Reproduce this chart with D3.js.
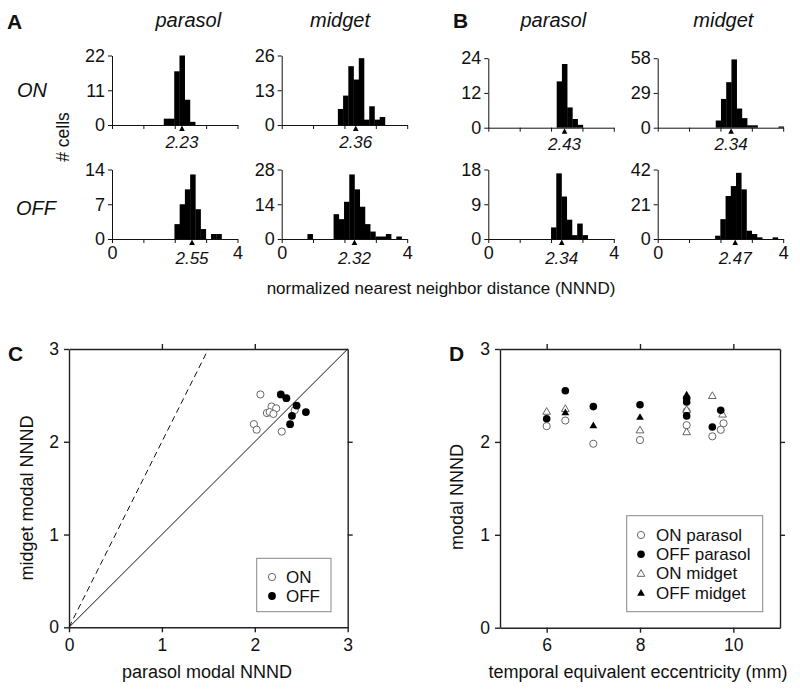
<!DOCTYPE html>
<html>
<head>
<meta charset="utf-8">
<script src="https://cdn.jsdelivr.net/npm/d3@7"></script>
<style>
html,body{margin:0;padding:0;background:#fff;}
svg{display:block;font-family:"Liberation Sans",Arial,Helvetica,sans-serif;}
</style>
</head>
<body>
<svg id="chart" width="800" height="691"></svg>
<script>
// ---------- DATA ----------
// Histograms (order: A ON parasol, A ON midget, A OFF parasol, A OFF midget,
//                    B ON parasol, B ON midget, B OFF parasol, B OFF midget)
const binWidth = 1 / 6;
const histStarts = [1.65, 1.79, 1.99, 0.82, 2.18, 1.85, 2.00, 1.83];
const histCounts = [
  [2, 2, 17, 22, 8, 1],
  [6, 11, 22, 17, 25, 2, 7, 2, 3],
  [3, 7, 10, 13, 6, 2, 0, 1, 1],
  [2, 0, 0, 0, 0, 10, 8, 15, 26, 20, 13, 6, 3, 1, 1, 2, 0, 1],
  [16, 22, 7, 3, 1],
  [6, 24, 38, 57, 16, 8, 2, 2, 0, 0, 0, 0, 1],
  [3, 17, 11, 5, 1, 4, 1],
  [2, 12, 26, 32, 40, 30, 5, 3, 1, 0, 0, 1]
];
const histModes = [2.23, 2.36, 2.55, 2.32, 2.43, 2.34, 2.34, 2.47];
const histYMax = [22, 26, 14, 28, 24, 58, 18, 42];
const histXTicks = [0, 1, 2, 3, 4];
const histXLabels = [0, 4];
const cellTypes = ["parasol", "midget"];
const rowLabels = ["ON", "OFF"];

// Panel C: parasol vs midget modal NNND
const cOnParasol = [2.06, 2.18, 2.23, 2.13, 2.16, 2.20, 1.99, 2.02, 2.29, 2.43];
const cOnMidget  = [2.51, 2.38, 2.36, 2.31, 2.32, 2.30, 2.19, 2.13, 2.11, 2.34];
const cOffParasol = [2.28, 2.34, 2.45, 2.55, 2.40, 2.38];
const cOffMidget  = [2.51, 2.47, 2.39, 2.32, 2.28, 2.19];
const cTicks = [0, 1, 2, 3];

// Panel D: eccentricity vs modal NNND
const dOnParasolX = [6.0, 6.4, 7.0, 8.0, 9.0, 9.0, 9.55, 9.73, 9.79];
const dOnParasolY = [2.17, 2.23, 1.98, 2.02, 2.18, 2.33, 2.06, 2.13, 2.20];
const dOffParasolX = [6.0, 6.4, 7.0, 8.0, 9.0, 9.0, 9.0, 9.55, 9.73];
const dOffParasolY = [2.25, 2.55, 2.38, 2.40, 2.47, 2.43, 2.28, 2.16, 2.34];
const dOnMidgetX = [6.0, 6.4, 8.0, 9.0, 9.0, 9.55, 9.77];
const dOnMidgetY = [2.33, 2.36, 2.13, 2.35, 2.11, 2.50, 2.30];
const dOffMidgetX = [6.4, 7.0, 8.0, 9.0, 9.0];
const dOffMidgetY = [2.32, 2.18, 2.27, 2.51, 2.45];
const dXTicks = [6, 8, 10];
const dYTicks = [0, 1, 2, 3];
const dLegend = ["ON parasol", "OFF parasol", "ON midget", "OFF midget"];

// ---------- DRAWING ----------
const svg = d3.select("#chart");
const FONT = 17.5;
const ink = "#111";
const fmt = d3.format("d");

// ----- Histograms -----
const histX0 = [112, 281.7, 112, 281.7, 488.3, 657.7, 488.3, 657.7];
const histZero = [125, 125, 239, 239, 127.7, 127.7, 239, 239];
const histW = 125.5, histH = 69.5;

histCounts.forEach((counts, i) => {
  const x = d3.scaleLinear().domain([0, 4]).range([histX0[i], histX0[i] + histW]);
  const y = d3.scaleLinear().domain([0, histYMax[i]]).range([histZero[i], histZero[i] - histH]);
  const g = svg.append("g");
  const bins = counts.map((c, k) => ({
    x0: histStarts[i] + k * binWidth,
    x1: histStarts[i] + (k + 1) * binWidth,
    c
  })).filter(d => d.c > 0);
  g.selectAll("rect").data(bins).join("rect")
    .attr("x", d => x(d.x0))
    .attr("width", d => x(d.x1) - x(d.x0) + 0.3)
    .attr("y", d => y(d.c))
    .attr("height", d => y(0) - y(d.c))
    .attr("fill", "#000");

  const isBottom = (i % 4) >= 2;
  const xa = d3.axisBottom(x).tickValues(histXTicks).tickSize(4).tickPadding(3)
    .tickSizeOuter(0)
    .tickFormat(d => (isBottom && histXLabels.includes(d)) ? fmt(d) : "");
  const gx = g.append("g").attr("transform", `translate(0,${y(0)})`).call(xa);
  const ya = d3.axisLeft(y).tickValues([0, histYMax[i] / 2, histYMax[i]])
    .tickSize(4).tickPadding(3).tickSizeOuter(0).tickFormat(fmt);
  const gy = g.append("g").attr("transform", `translate(${x(0)},0)`).call(ya);
  [gx, gy].forEach(a => {
    a.selectAll("path,line").attr("stroke", ink).attr("stroke-width", 1);
    a.selectAll("text").attr("font-size", 18).attr("fill", ink)
      .attr("font-family", "Liberation Sans, Arial, sans-serif");
  });

  // mode arrow
  const mx = x(histModes[i]), my = y(0);
  g.append("path")
    .attr("d", `M${mx},${my + 0.5}L${mx - 2.8},${my + 6}L${mx + 2.8},${my + 6}Z`)
    .attr("fill", "#000");
  g.append("text")
    .attr("x", mx).attr("y", my + (isBottom ? 25 : 22.5))
    .attr("text-anchor", "middle").attr("font-style", "italic")
    .attr("font-size", 17).attr("fill", ink)
    .text(histModes[i].toFixed(2));
});

// Headers
const headerX = [188.3, 340, 553.3, 723.3];
headerX.forEach((hx, k) => {
  svg.append("text").attr("x", hx).attr("y", 27).attr("text-anchor", "middle")
    .attr("font-style", "italic").attr("font-size", 20).attr("fill", ink)
    .text(cellTypes[k % 2]);
});
svg.append("text").attr("x", 17).attr("y", 97).attr("font-style", "italic")
  .attr("font-size", 20).attr("fill", ink).text(rowLabels[0]);
svg.append("text").attr("x", 16).attr("y", 215).attr("font-style", "italic")
  .attr("font-size", 20).attr("fill", ink).text(rowLabels[1]);
svg.append("text").attr("transform", "translate(69,137) rotate(-90)")
  .attr("text-anchor", "middle").attr("font-size", 17.5).attr("fill", ink).text("# cells");
svg.append("text").attr("x", 441).attr("y", 293.5).attr("text-anchor", "middle")
  .attr("font-size", 17).attr("fill", ink).text("normalized nearest neighbor distance (NNND)");

// Panel letters
const letter = (t, x, y) => svg.append("text").attr("x", x).attr("y", y)
  .attr("font-weight", "bold").attr("font-size", 21).attr("fill", ink).text(t);
letter("A", 7, 29);
letter("B", 453, 28);
letter("C", 8, 361);
letter("D", 449, 361);

// ----- Framed axes helper -----
function frame(x, y, xt, yt, xtTop, ytRight) {
  const g = svg.append("g");
  const [x0, x1] = x.range(), [y0, y1] = y.range();
  const axes = [
    g.append("g").attr("transform", `translate(0,${y0})`)
      .call(d3.axisBottom(x).tickValues(xt).tickSize(5).tickPadding(6).tickSizeOuter(0).tickFormat(fmt)),
    g.append("g").attr("transform", `translate(0,${y1})`)
      .call(d3.axisTop(x).tickValues(xtTop).tickSize(5).tickFormat("").tickSizeOuter(0)),
    g.append("g").attr("transform", `translate(${x0},0)`)
      .call(d3.axisLeft(y).tickValues(yt).tickSize(5).tickPadding(5).tickSizeOuter(0).tickFormat(fmt)),
    g.append("g").attr("transform", `translate(${x1},0)`)
      .call(d3.axisRight(y).tickValues(ytRight).tickSize(5).tickFormat("").tickSizeOuter(0))
  ];
  axes.forEach(a => {
    a.selectAll("path,line").attr("stroke", "#222").attr("stroke-width", 1.4);
    a.selectAll("text").attr("font-size", FONT).attr("fill", ink)
      .attr("font-family", "Liberation Sans, Arial, sans-serif");
  });
  return g;
}

// ----- Panel C -----
const cx = d3.scaleLinear().domain([0, 3]).range([69, 347.7]);
const cy = d3.scaleLinear().domain([0, 3]).range([627.3, 349]);
const gc = frame(cx, cy, cTicks, cTicks, [1, 2], [1, 2]);
gc.append("line").attr("x1", cx(0)).attr("y1", cy(0)).attr("x2", cx(3)).attr("y2", cy(3))
  .attr("stroke", "#111").attr("stroke-width", 1);
gc.append("line").attr("x1", cx(0)).attr("y1", cy(0)).attr("x2", cx(1.5)).attr("y2", cy(3))
  .attr("stroke", "#111").attr("stroke-width", 1).attr("stroke-dasharray", "6,4");
gc.selectAll("circle.on").data(cOnParasol).join("circle").attr("class", "on")
  .attr("cx", d => cx(d)).attr("cy", (d, k) => cy(cOnMidget[k])).attr("r", 3.6)
  .attr("fill", "#fff").attr("stroke", "#666").attr("stroke-width", 1);
gc.selectAll("circle.off").data(cOffParasol).join("circle").attr("class", "off")
  .attr("cx", d => cx(d)).attr("cy", (d, k) => cy(cOffMidget[k])).attr("r", 3.9)
  .attr("fill", "#000");
svg.append("text").attr("x", 207).attr("y", 678).attr("text-anchor", "middle")
  .attr("font-size", 18).attr("fill", ink).text("parasol modal NNND");
svg.append("text").attr("transform", "translate(33,498) rotate(-90)")
  .attr("text-anchor", "middle").attr("font-size", 18).attr("fill", ink).text("midget modal NNND");
// legend C
svg.append("rect").attr("x", 256.7).attr("y", 558.3).attr("width", 74.3).attr("height", 53.4)
  .attr("fill", "#fff").attr("stroke", "#888").attr("stroke-width", 1);
svg.append("circle").attr("cx", 272).attr("cy", 577).attr("r", 3.6)
  .attr("fill", "#fff").attr("stroke", "#666");
svg.append("circle").attr("cx", 272).attr("cy", 596).attr("r", 3.9).attr("fill", "#000");
svg.append("text").attr("x", 286).attr("y", 583).attr("font-size", 17).attr("fill", ink).text("ON");
svg.append("text").attr("x", 286).attr("y", 602).attr("font-size", 17).attr("fill", ink).text("OFF");

// ----- Panel D -----
const dx = d3.scaleLinear().domain([5, 11]).range([500, 780]);
const dy = d3.scaleLinear().domain([0, 3]).range([627.7, 349]);
const gd = frame(dx, dy, dXTicks, dYTicks, dXTicks, [1, 2]);
const tri = d3.symbol().type(d3.symbolTriangle).size(26);
const drawCircles = (xs, ys, filled) => gd.append("g").selectAll("circle").data(xs).join("circle")
  .attr("cx", d => dx(d)).attr("cy", (d, k) => dy(ys[k])).attr("r", filled ? 3.8 : 3.6)
  .attr("fill", filled ? "#000" : "#fff").attr("stroke", filled ? "none" : "#666");
const drawTris = (xs, ys, filled) => gd.append("g").selectAll("path").data(xs).join("path")
  .attr("d", tri).attr("transform", (d, k) => `translate(${dx(d)},${dy(ys[k]) + 0.8})`)
  .attr("fill", filled ? "#000" : "#fff").attr("stroke", filled ? "none" : "#666");
drawCircles(dOnParasolX, dOnParasolY, false);
drawTris(dOnMidgetX, dOnMidgetY, false);
drawCircles(dOffParasolX, dOffParasolY, true);
drawTris(dOffMidgetX, dOffMidgetY, true);
svg.append("text").attr("x", 638).attr("y", 678).attr("text-anchor", "middle")
  .attr("font-size", 18).attr("fill", ink).text("temporal equivalent eccentricity (mm)");
svg.append("text").attr("transform", "translate(463,497) rotate(-90)")
  .attr("text-anchor", "middle").attr("font-size", 18).attr("fill", ink).text("modal NNND");
// legend D
svg.append("rect").attr("x", 626.7).attr("y", 515.7).attr("width", 136).attr("height", 96)
  .attr("fill", "#fff").attr("stroke", "#888").attr("stroke-width", 1);
const legY = [535, 554.3, 573.3, 592.7];
legY.forEach((ly, k) => {
  const filled = k % 2 === 1;
  if (k < 2) {
    svg.append("circle").attr("cx", 641).attr("cy", ly).attr("r", filled ? 3.8 : 3.6)
      .attr("fill", filled ? "#000" : "#fff").attr("stroke", filled ? "none" : "#666");
  } else {
    svg.append("path").attr("d", tri).attr("transform", `translate(641,${ly + 0.8})`)
      .attr("fill", filled ? "#000" : "#fff").attr("stroke", filled ? "none" : "#666");
  }
  svg.append("text").attr("x", 656).attr("y", ly + 6).attr("font-size", 17)
    .attr("fill", ink).text(dLegend[k]);
});
</script>
</body>
</html>
